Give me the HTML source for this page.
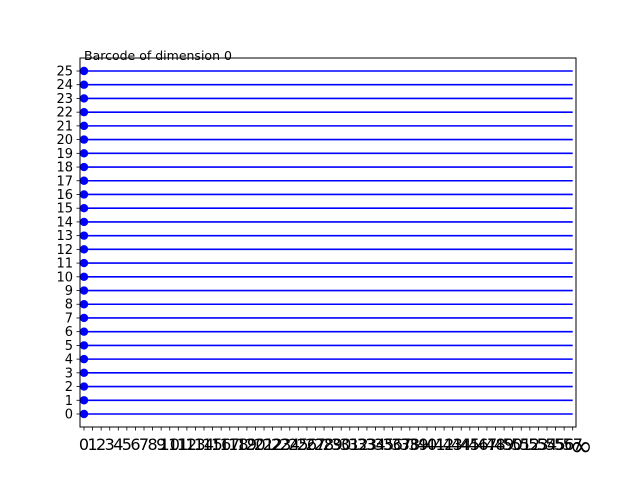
<!DOCTYPE html>
<html><head><meta charset="utf-8"><style>body{margin:0;background:#fff}svg{display:block;font-family:"DejaVu Sans","Liberation Sans",sans-serif}</style></head>
<body>
<svg id="chart" width="640" height="480">
<rect x="80" y="58" width="496" height="369" fill="#fff"/>
<g id="marks"></g>
<rect x="80" y="58" width="496" height="369" fill="none" stroke="#000" stroke-width="1"/>
<g id="xt"></g><g id="yt"></g>
<text x="84" y="60" font-size="12.5">Barcode of dimension 0</text>
</svg>
<script>
const barIndices = [0,1,2,3,4,5,6,7,8,9,10,11,12,13,14,15,16,17,18,19,20,21,22,23,24,25];
const barBirth = [0,0,0,0,0,0,0,0,0,0,0,0,0,0,0,0,0,0,0,0,0,0,0,0,0,0];
const barDeath = [57,57,57,57,57,57,57,57,57,57,57,57,57,57,57,57,57,57,57,57,57,57,57,57,57,57];
const xTickCount = 58;
const infLabel = "∞";
const NS="http://www.w3.org/2000/svg";
const xs=v=>84+v*(572.7-84)/57;
const ys=v=>414-v*(414-71)/25;
const marks=document.getElementById('marks'),xt=document.getElementById('xt'),yt=document.getElementById('yt');
function mk(tag,attrs,parent){const e=document.createElementNS(NS,tag);for(const k in attrs)e.setAttribute(k,attrs[k]);parent.appendChild(e);return e;}
barIndices.forEach((idx,i)=>{
  const l=mk('line',{x1:xs(barBirth[i]),x2:xs(barDeath[i]),y1:ys(idx),y2:ys(idx),stroke:'#0000ff','stroke-width':1.6},marks);
  
  
  const c=mk('circle',{cx:xs(barBirth[i]),cy:ys(idx),r:4.2,fill:'#0000ff'},marks);
  
  
  const t=mk('line',{x1:80,x2:76.5,y1:ys(idx),y2:ys(idx),stroke:'#000','stroke-width':0.8},yt);
  
  
  const tl=mk('text',{x:73,y:ys(idx)+4.5,'font-size':13,'text-anchor':'end'},yt);
  tl.textContent=idx;
  
  
});
for(let i=0;i<xTickCount;i++){
  const t=mk('line',{x1:xs(i),x2:xs(i),y1:427,y2:430.5,stroke:'#000','stroke-width':0.8},xt);
  
  
  const tl=mk('text',{x:xs(i),y:450,'font-size':16,'text-anchor':'middle'},xt);
  tl.textContent=i;
  
  
}
const inf=mk('text',{x:xs(xTickCount),y:446,'font-size':28,'text-anchor':'middle','dominant-baseline':'central'},xt);
inf.textContent=infLabel;


</script>
</body></html>
